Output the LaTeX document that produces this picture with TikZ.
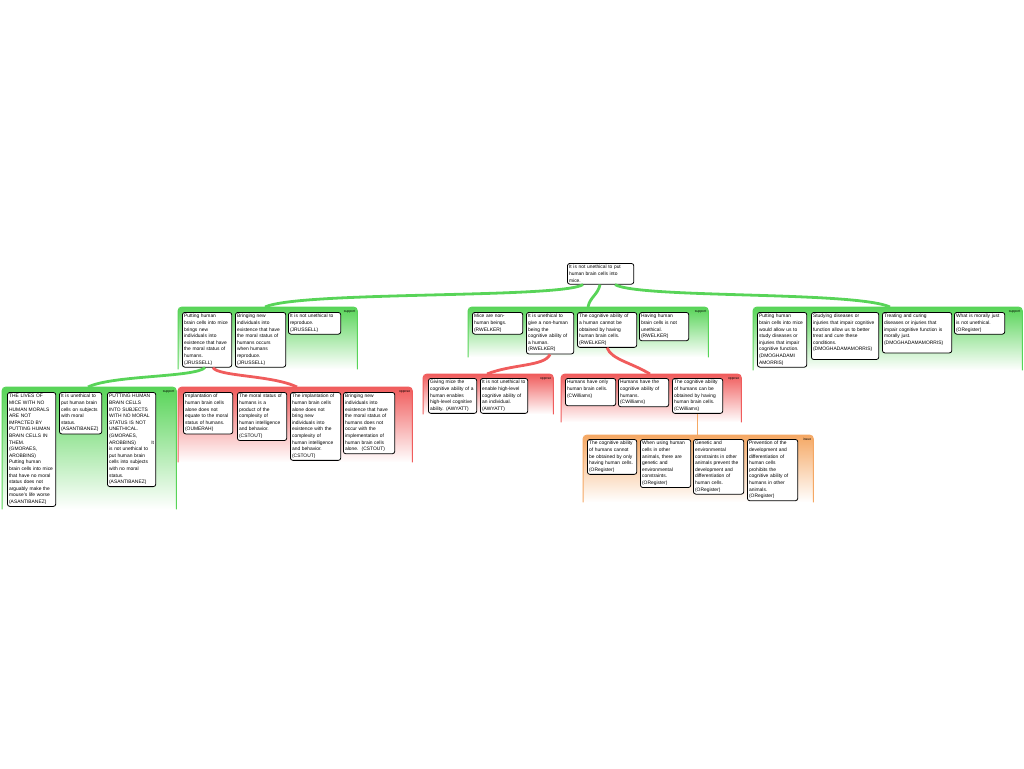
\documentclass[tikz,border=0pt]{standalone}
\usepackage{fontspec}
\setmainfont{Liberation Sans}
\definecolor{supgreen}{RGB}{88,212,88}
\definecolor{oppred}{RGB}{240,92,92}
\definecolor{issorange}{RGB}{245,168,100}
\newcommand{\argfont}{\fontsize{4.9}{6.6}\selectfont}
\tikzset{
	argbox/.style={
			draw=black, line width=0.8pt, fill=white, rounded corners=2.5pt,
			anchor=north west, align=left, inner xsep=1.7pt, inner ysep=2pt,
			font=\argfont, text width=#1
		},
	grp/.style={
			anchor=north west, inner sep=0pt, rounded corners=4pt,
			top color=#1, bottom color=white
		},
	grpedge/.style={draw=#1, line width=1pt, rounded corners=4pt},
	grplabel/.style={anchor=north east, inner sep=0pt, font=\fontsize{3.4}{4}\selectfont},
	supline/.style={draw=supgreen, line width=2.8pt},
	oppline/.style={draw=oppred, line width=2.8pt},
	issline/.style={draw=issorange, line width=1.6pt}
}

\begin{document}
\begin{tikzpicture}[x=1pt, y=-1pt]
			\useasboundingbox (0,0) rectangle (1024,768);

			% Groups
			\node[grp=supgreen, minimum width=179, minimum height=62] (gA) at (178,307) {};
			\node[grp=supgreen, minimum width=174, minimum height=122] (gD) at (2,387) {};
			\node[grp=oppred, minimum width=234, minimum height=75] (gE) at (178,387) {};
			\node[grp=supgreen, minimum width=240, minimum height=50] (gB) at (468,307) {};
			\node[grp=oppred, minimum width=130, minimum height=40] (gF) at (423,374) {};
			\node[grp=oppred, minimum width=180, minimum height=48] (gG) at (561,374) {};
			\node[grp=issorange, minimum width=230, minimum height=67] (gH) at (583,435) {};
			\node[grp=supgreen, minimum width=269, minimum height=63] (gC) at (753,307) {};

			\foreach \g/\c in {gA/supgreen, gD/supgreen, gE/oppred, gB/supgreen, gF/oppred, gG/oppred, gH/issorange, gC/supgreen}
			\draw[grpedge=\c] (\g.south west) -- (\g.north west) -- (\g.north east) -- (\g.south east);

			\node[grplabel] (tA) at ([xshift=-2pt, yshift=-3pt]gA.north east) {support};
			\node[grplabel] (tD) at ([xshift=-2pt, yshift=-3pt]gD.north east) {support};
			\node[grplabel] (tE) at ([xshift=-2pt, yshift=-3pt]gE.north east) {oppose};
			\node[grplabel] (tB) at ([xshift=-2pt, yshift=-3pt]gB.north east) {support};
			\node[grplabel] (tF) at ([xshift=-2pt, yshift=-3pt]gF.north east) {oppose};
			\node[grplabel] (tG) at ([xshift=-2pt, yshift=-3pt]gG.north east) {oppose};
			\node[grplabel] (tH) at ([xshift=-2pt, yshift=-3pt]gH.north east) {issue};
			\node[grplabel] (tC) at ([xshift=-2pt, yshift=-3pt]gC.north east) {support};

			% Claim
			\node[argbox=63pt] (root) at (567,263) {It is not unethical to put\\human brain cells into\\mice.};

			% Left support
			\node[argbox=46pt] (L1) at (182,312) {Putting human\\brain cells into mice\\brings new\\individuals into\\existence that have\\the moral status of\\humans.\\(JRUSSELL)};
			\node[argbox=47pt] (L2) at (235,312) {Bringing new\\individuals into\\existence that have\\the moral status of\\humans occurs\\when humans\\reproduce.\\(JRUSSELL)};
			\node[argbox=49pt] (L3) at (288,312) {It is not unethical to\\reproduce.\\(JRUSSELL)};

			\node[argbox=45pt] (B1) at (7,392) {THE LIVES OF\\MICE WITH NO\\HUMAN MORALS\\ARE NOT\\IMPACTED BY\\PUTTING HUMAN\\BRAIN CELLS IN\\THEM.\\(GMORAES,\\AROBBINS)\\Putting human\\brain cells into mice\\that have no moral\\status does not\\arguably make the\\mouse's life worse\\(ASANTIBANEZ)};
			\node[argbox=39pt] (B2) at (59,392) {It is unethical to\\put human brain\\cells on subjects\\with moral\\status.\\(ASANTIBANEZ)};
			\node[argbox=45pt] (B3) at (107,392) {PUTTING HUMAN\\BRAIN CELLS\\INTO SUBJECTS\\WITH NO MORAL\\STATUS IS NOT\\UNETHICAL.\\(GMORAES,\\AROBBINS)\hfill It\\is not unethical to\\put human brain\\cells into subjects\\with no moral\\status.\\(ASANTIBANEZ)};

			\node[argbox=46pt] (O1) at (183,392) {Implantation of\\human brain cells\\alone does not\\equate to the moral\\status of humans.\\(OUMERAH)};
			\node[argbox=46pt] (O2) at (237,392) {The moral status of\\humans is a\\product of the\\complexity of\\human intelligence\\and behavior.\\(CSTOUT)};
			\node[argbox=47pt] (O3) at (290,392) {The implantation of\\human brain cells\\alone does not\\bring new\\individuals into\\existence with the\\complexity of\\human intelligence\\and behavior.\\(CSTOUT)};
			\node[argbox=48pt] (O4) at (343,392) {Bringing new\\individuals into\\existence that have\\the moral status of\\humans does not\\occur with the\\implementation of\\human brain cells\\alone.\ \ (CSTOUT)};

			% Middle support
			\node[argbox=47pt] (M1) at (472,312) {Mice are non-\\human beings.\\(RWELKER)};
			\node[argbox=44pt] (M2) at (526,312) {It is unethical to\\give a non-human\\being the\\cognitive ability of\\a human.\\(RWELKER)};
			\node[argbox=56pt] (M3) at (577,312) {The cognitive ability of\\a human cannot be\\obtained by having\\human brain cells.\\(RWELKER)};
			\node[argbox=46pt] (M4) at (639,312) {Having human\\brain cells is not\\unethical.\\(RWELKER)};

			\node[argbox=45pt] (P1) at (428,378) {Giving mice the\\cognitive ability of a\\human enables\\high-level cognitive\\ability. (AWYATT)};
			\node[argbox=44pt] (P2) at (480,378) {It is not unethical to\\enable high-level\\cognitive ability of\\an individual.\\(AWYATT)};

			\node[argbox=47pt] (Q1) at (565,378) {Humans have only\\human brain cells.\\(CWilliams)\\\mbox{}};
			\node[argbox=47pt] (Q2) at (618,378) {Humans have the\\cognitive ability of\\humans.\\(CWilliams)};
			\node[argbox=47pt] (Q3) at (672,378) {The cognitive ability\\of humans can be\\obtained by having\\human brain cells.\\(CWilliams)};

			\node[argbox=46pt] (I1) at (587,439) {The cognitive ability\\of humans cannot\\be obtained by only\\having human cells.\\(ORegister)};
			\node[argbox=47pt] (I2) at (640,439) {When using human\\cells in other\\animals, there are\\genetic and\\environmental\\constraints.\\(ORegister)};
			\node[argbox=47pt] (I3) at (693,439) {Genetic and\\environmental\\constraints in other\\animals prevent the\\development and\\differentiation of\\human cells.\\(ORegister)};
			\node[argbox=47pt] (I4) at (747,439) {Prevention of the\\development and\\differentiation of\\human cells\\prohibits the\\cognitive ability of\\humans in other\\animals.\\(ORegister)};

			% Right support
			\node[argbox=46pt] (R1) at (757,312) {Putting human\\brain cells into mice\\would allow us to\\study diseases or\\injuries that impair\\cognitive function.\\(DMOGHADAMI\\AMORRIS)};
			\node[argbox=64pt] (R2) at (811,312) {Studying diseases or\\injuries that impair cognitive\\function allow us to better\\treat and cure these\\conditions.\\(DMOGHADAMAMORRIS)\\\mbox{}};
			\node[argbox=66pt] (R3) at (882,312) {Treating and curing\\diseases or injuries that\\impair cognitive function is\\morally just.\\(DMOGHADAMAMORRIS)\\\mbox{}};
			\node[argbox=47pt] (R4) at (954,312) {What is morally just\\is not unethical.\\(ORegister)};

			% Links
			\draw[supline] ([xshift=16pt]root.south west) .. controls +(-23,14) and +(35,-16) .. ([xshift=87pt]gA.north west);
			\draw[supline] ([xshift=33pt]root.south west) .. controls +(-2,10) and +(2,-10) .. ([xshift=120pt]gB.north west);
			\draw[supline] ([xshift=48pt]root.south west) .. controls +(25,14) and +(-35,-16) .. ([xshift=137pt]gC.north west);

			\draw[supline] ([xshift=23pt]L1.south west) .. controls +(-10,10) and +(25,-12) .. ([xshift=86pt]gD.north west);
			\draw[oppline] ([xshift=31pt]L1.south west) .. controls +(5,9) and +(-25,-12) .. ([xshift=119pt]gE.north west);

			\draw[oppline] ([xshift=24pt]M2.south west) .. controls +(-5,12) and +(25,-10) .. ([xshift=64pt]gF.north west);
			\draw[oppline] ([xshift=30pt]M3.south west) .. controls +(5,12) and +(-20,-12) .. ([xshift=89pt]gG.north west);

			\draw[issline] (Q3.south) -- (Q3.south |- gH.north);
		\end{tikzpicture}
\end{document}
